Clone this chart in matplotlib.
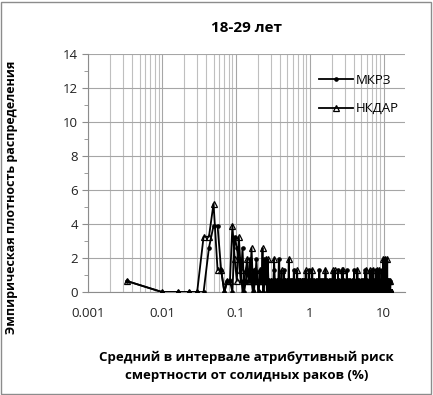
import numpy as np
import matplotlib
matplotlib.use("Agg")
import matplotlib.pyplot as plt
from matplotlib.ticker import FixedLocator, NullFormatter, LogLocator
from matplotlib.patches import Rectangle

plt.rcParams['font.family'] = ['Open Sans', 'DejaVu Sans']

# ---------------- data ----------------
title = "18-29 лет"
series_names = ["МКРЗ", "НКДАР"]
xlabel = "Средний в интервале атрибутивный риск\nсмертности от солидных раков (%)"
ylabel = "Эмпирическая плотность распределения"

bin_width = 1.0 / 150.0        # interval width, %
unit_density = 0.65            # density for a single count in a bin
n_bins = 1880

# counts in the first 41 intervals (0 ... 0.27 %)
mkrz_head = [1, 0, 0, 0, 0, 0, 4, 6, 6, 2, 0, 1, 1, 0, 5, 4, 3, 1, 4, 0,
             1, 2, 1, 3, 1, 0, 2, 1, 3, 1, 0, 1, 2, 1, 1, 0, 3, 1, 1, 1, 0]
nkdar_head = [1, 0, 0, 0, 0, 5, 5, 8, 2, 2, 0, 1, 1, 6, 3, 1, 5, 2, 0, 1,
              2, 3, 1, 1, 4, 1, 0, 2, 1, 1, 0, 2, 1, 1, 4, 0, 1, 1, 3, 0, 3]

# sparse tail: interval positions (%) that hold 1, 2 or 3 counts
mkrz_tail_1 = [0.278, 0.289, 0.294, 0.305, 0.312, 0.327, 0.331, 0.345, 0.35,
               0.366, 0.375, 0.384, 0.393, 0.405, 0.419, 0.432, 0.447, 0.452,
               0.463, 0.472, 0.481, 0.5, 0.512, 0.527, 0.535, 0.553, 0.565,
               0.585, 0.596, 0.62, 0.632, 0.648, 0.66, 0.684, 0.698, 0.72,
               0.733, 0.765, 0.785, 0.812, 0.823, 0.86, 0.875, 0.91, 0.925,
               0.96, 1.015, 1.06, 1.1, 1.14, 1.19, 1.25, 1.3, 1.33, 1.42,
               1.48, 1.51, 1.6, 1.69, 1.77, 1.8, 1.89, 2.01, 2.07, 2.12, 2.25,
               2.33, 2.39, 2.54, 2.6, 2.68, 2.85, 2.99, 3.17, 3.3, 3.38, 3.61,
               3.7, 3.86, 4.09, 4.2, 4.34, 4.56, 4.7, 4.8, 5.07, 5.2, 5.36,
               5.67, 5.98, 6.16, 6.4, 6.65, 7.12, 7.3, 7.6, 8.0, 8.3, 8.5,
               8.9, 9.05, 9.2, 9.75, 10.05, 10.3, 10.6, 11.1, 11.4, 11.7,
               11.9, 12.2]
mkrz_tail_2 = [0.38, 0.61, 0.97, 1.35, 2.42, 3.2, 4.0, 5.6, 6.9, 7.8, 9.4]
mkrz_tail_3 = [10.1]

nkdar_tail_1 = [0.276, 0.281, 0.297, 0.302, 0.318, 0.325, 0.336, 0.342,
                0.355, 0.362, 0.37, 0.381, 0.389, 0.398, 0.412, 0.428, 0.437,
                0.446, 0.458, 0.468, 0.487, 0.497, 0.506, 0.548, 0.558,
                0.571, 0.593, 0.603, 0.614, 0.641, 0.655, 0.676, 0.69, 0.702,
                0.713, 0.741, 0.752, 0.777, 0.795, 0.81, 0.83, 0.847, 0.865,
                0.9, 0.936, 0.95, 0.99, 1.01, 1.04, 1.11, 1.16, 1.22, 1.26,
                1.29, 1.37, 1.41, 1.46, 1.52, 1.58, 1.67, 1.71, 1.83, 1.88,
                1.95, 2.15, 2.31, 2.39, 2.46, 2.62, 2.76, 2.91, 3.08, 3.14,
                3.27, 3.42, 3.52, 3.74, 3.88, 3.97, 4.21, 4.47, 4.68, 4.93,
                5.08, 5.22, 5.51, 5.92, 6.32, 6.72, 6.89, 7.05, 7.41, 7.6,
                7.94, 8.03, 8.45, 8.72, 9.1, 9.33, 9.56, 10.2, 10.9, 11.3,
                11.6, 12.0, 12.3]
nkdar_tail_2 = [0.418, 0.667, 0.88, 1.08, 1.64, 2.05, 2.18, 2.72, 2.83,
                4.42, 5.83, 6.51, 7.2, 8.2, 8.8]
nkdar_tail_3 = [0.33, 0.523, 9.9, 10.5, 11.2]

xtick_vals = [0.001, 0.01, 0.1, 1, 10]
xtick_labels = ["0.001", "0.01", "0.1", "1", "10"]
ytick_vals = [0, 2, 4, 6, 8, 10, 12, 14]


def build(head, t1, t2, t3):
    counts = np.zeros(n_bins)
    counts[:len(head)] = head
    for pos_list, c in ((t1, 1), (t2, 2), (t3, 3)):
        for p in pos_list:
            counts[int(p / bin_width)] += c
    centers = (np.arange(n_bins) + 0.5) * bin_width
    return centers, counts * unit_density


x_m, y_m = build(mkrz_head, mkrz_tail_1, mkrz_tail_2, mkrz_tail_3)
x_n, y_n = build(nkdar_head, nkdar_tail_1, nkdar_tail_2, nkdar_tail_3)

# ---------------- figure ----------------
fig = plt.figure(figsize=(4.33, 3.95), dpi=100)
ax = fig.add_axes([88 / 433, 1 - 292 / 395, 317 / 433, 238 / 395])

ax.plot(x_m, y_m, color="black", lw=1.3, marker="o", ms=2.3,
        mfc="black", mec="black", label=series_names[0], zorder=3)
ax.plot(x_n, y_n, color="black", lw=1.3, marker="^", ms=4.5,
        mfc="none", mec="black", mew=0.9, label=series_names[1], zorder=4)

ax.set_xscale("log")
ax.set_xlim(0.001, 19.5)
ax.set_ylim(0, 14)
ax.set_xticks(xtick_vals)
ax.set_xticklabels(xtick_labels)
ax.xaxis.set_minor_locator(LogLocator(base=10, subs=np.arange(2, 10)))
ax.xaxis.set_minor_formatter(NullFormatter())
ax.set_yticks(ytick_vals)
ax.yaxis.set_minor_locator(FixedLocator([1, 3, 5, 7, 9, 11, 13]))

ax.grid(True, which="major", axis="both", color="#a6a6a6", lw=0.8)
ax.grid(True, which="minor", axis="x", color="#bfbfbf", lw=0.8)
ax.set_axisbelow(True)

for s in ["top", "right"]:
    ax.spines[s].set_visible(False)
for s in ["left", "bottom"]:
    ax.spines[s].set_color("#8c8c8c")
    ax.spines[s].set_linewidth(0.8)

ax.tick_params(axis="y", which="major", length=4, color="#8c8c8c",
               labelsize=9.5, labelcolor="#222222", pad=3)
ax.tick_params(axis="y", which="minor", length=3, color="#8c8c8c")
ax.tick_params(axis="x", which="both", length=0, labelsize=9.5,
               labelcolor="#222222", pad=11)

ax.set_title(title, fontsize=11, fontweight="bold", pad=16)
ax.set_xlabel(xlabel, fontsize=9.5, fontweight="bold", labelpad=22,
              linespacing=1.5)
fig.text(12 / 433, 1 - 197 / 395, ylabel, rotation=90, fontsize=9,
         fontweight="bold", ha="center", va="center")

leg = ax.legend(loc="upper left", bbox_to_anchor=(0.728, 0.918),
                frameon=False, fontsize=9.5, handlelength=2.6,
                labelspacing=1.2, borderaxespad=0, borderpad=0,
                handletextpad=0.2)

fig.patches.append(Rectangle((0.003, 0.003), 0.992, 0.992,
                             transform=fig.transFigure, fill=False,
                             edgecolor="#8c8c8c", lw=1.0))

fig.savefig("out.png", dpi=100)
